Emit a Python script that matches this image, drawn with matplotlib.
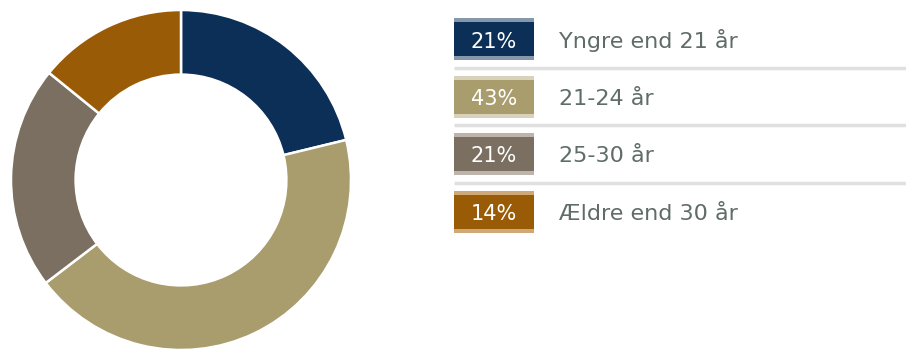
import matplotlib
matplotlib.use("Agg")
import matplotlib.pyplot as plt
from matplotlib.patches import Rectangle

# age distribution
labels = ["Yngre end 21 år", "21-24 år", "25-30 år", "Ældre end 30 år"]
shares = [21, 43, 21, 14]
colors = ["#0b2f57", "#a99d6d", "#7a6f60", "#9a5b06"]
light_colors = ["#8497ab", "#d8d2ba", "#bdb5ab", "#cfa877"]

W, H = 906, 349
fig = plt.figure(figsize=(W / 100, H / 100), dpi=100)

# donut: centre (181, 180) px from top-left, outer radius 170 px
cx, cy, r = 181, 180, 170
ax = fig.add_axes([(cx - r) / W, (H - cy - r) / H, 2 * r / W, 2 * r / H])
ax.pie(shares, colors=colors, startangle=90, counterclock=False, radius=1,
       wedgeprops=dict(width=0.38, edgecolor="white", linewidth=1.8))
ax.set_xlim(-1, 1)
ax.set_ylim(-1, 1)
ax.set_aspect("equal")
ax.axis("off")

# legend drawn in pixel coordinates
lg = fig.add_axes([0, 0, 1, 1], zorder=3)
lg.set_xlim(0, W)
lg.set_ylim(H, 0)
lg.axis("off")
lg.patch.set_alpha(0)

x0, bw = 454, 80
top0, pitch, bh, band = 18, 57.5, 42, 4
for i, (lab, val, c, lc) in enumerate(zip(labels, shares, colors, light_colors)):
    top = top0 + i * pitch
    lg.add_patch(Rectangle((x0, top), bw, bh, facecolor=lc, edgecolor="none"))
    lg.add_patch(Rectangle((x0, top + band), bw, bh - 2 * band, facecolor=c, edgecolor="none"))
    lg.text(x0 + bw / 2, top + 29.5, f"{val}%", color="white", fontsize=15,
            ha="center", va="baseline")
    lg.text(559, top + 29.5, lab, color="#5f6c67", fontsize=16,
            ha="left", va="baseline")
    if i < len(labels) - 1:
        lg.plot([x0, W], [top + bh + 7.5, top + bh + 7.5], color="#e0e0e0", lw=2.5,
                solid_capstyle="butt")

fig.savefig("out.png", dpi=100, facecolor="white")
